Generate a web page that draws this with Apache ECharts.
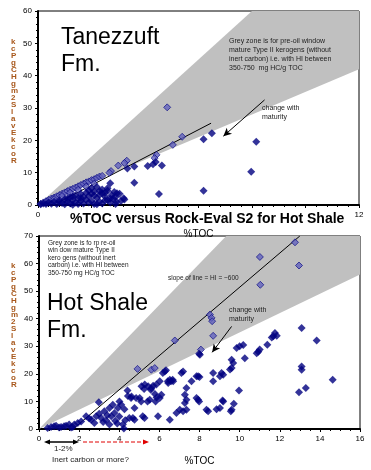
<!DOCTYPE html>
<html><head><meta charset="utf-8">
<script src="https://cdn.jsdelivr.net/npm/echarts@6/dist/echarts.min.js"></script>
<style>html,body{margin:0;padding:0;background:#fff}#c{width:371px;height:470px}</style>
</head><body><div id="c"></div>
<script>
// ---------- DATA ----------
const topXTicks = [0, 12, 2];       // min, max, interval (%TOC)
const topYTicks = [0, 60, 10];      // S2 mg HC/g rock
const hotXTicks = [0, 16, 2];
const hotYTicks = [0, 70, 10];
const hiBounds = [350, 750];        // grey zone HI range (mg HC/g TOC)

const topSolid = [
 [0.1,0.2],[0.2,0.5],[0.3,0.3],[0.4,0.8],[0.5,0.4],[0.6,1.0],[0.7,0.3],[0.8,1.4],[0.9,0.6],[1.0,1.8],
 [1.0,0.2],[1.1,1.0],[1.2,2.4],[1.2,0.5],[1.3,1.5],[1.4,3.0],[1.4,0.8],[1.5,2.0],[1.5,0.3],[1.6,3.4],
 [1.6,1.2],[1.7,2.5],[1.7,0.5],[1.8,3.8],[1.8,1.6],[1.9,4.5],[1.9,0.8],[1.9,2.8],[2.0,5.2],[2.0,3.5],
 [2.0,1.2],[2.1,4.2],[2.1,0.3],[2.2,5.6],[2.2,2.2],[2.3,3.2],[2.3,1.0],[2.4,4.8],[2.4,0.5],[2.5,2.6],
 [2.5,3.8],[2.6,1.5],[2.6,5.2],[2.7,6.7],[2.7,0.8],[2.75,3.0],[2.8,2.0],[2.85,4.0],[2.9,2.5],[2.95,3.6],
 [3.05,3.5],[2.93,1.0],[3.2,2.1],[3.23,1.7],[3.1,1.2],[2.2,0.2],[1.3,0.1],[2.9,0.3],
 [0.8,0.9],[1.1,2.0],[1.3,2.6],[1.6,2.2],[2.1,2.9],[2.4,3.6],[2.6,4.4],[2.3,4.3],[2.5,1.4],[2.7,1.9],
 [3.34,11.3],[3.6,11.9],[3.6,6.9],[4.1,12.1],[4.3,12.6],[4.4,13.3],[4.52,3.4],[4.63,12.2],
 [6.19,20.3],[6.5,22.2],[6.19,4.4],[7.97,10.3],[8.16,19.6]
];
const topHatched = [
 [4.83,30.2],[5.39,21.1],[5.04,18.6],[4.43,15.5],[4.36,14.5],[3.32,13.7],[3.23,13.0],[3.0,12.2],[2.73,10.5],[2.67,10.0],
 [0.1,0.4],[0.2,0.8],[0.3,1.2],[0.4,1.6],[0.5,2.0],[0.6,2.3],[0.7,2.7],[0.8,3.1],[0.9,3.5],[1.0,3.9],
 [1.1,4.3],[1.2,4.7],[1.3,5.0],[1.4,5.4],[1.5,5.8],[1.6,6.2],[1.7,6.6],[1.8,7.0],[1.9,7.3],[2.0,7.7],
 [2.1,8.0],[2.2,8.4],[2.3,8.8],[2.4,9.0],
 [0.3,0.9],[0.6,1.8],[0.9,2.8],[1.2,3.8],[1.5,4.7],[1.8,5.7],[2.1,6.6]
];
const hotSolid = [
 [0.43,0.4],[0.6,0.7],[0.75,1.0],[0.85,1.2],[1.0,0.5],[1.1,0.7],[1.25,1.0],[1.35,1.2],[1.5,1.6],[1.6,0.5],
 [1.68,0.7],[1.76,1.6],[1.93,2.2],[2.1,2.7],
 [2.35,4.6],[2.5,3.8],[2.6,3.4],[2.76,2.2],[2.85,4.6],[2.98,9.7],[3.0,5.5],[3.1,4.0],[3.2,2.5],[3.26,6.4],
 [3.35,3.1],[3.4,5.0],[3.51,7.6],[3.51,1.6],[3.6,4.6],[3.68,8.8],[3.76,5.8],[3.8,3.0],[3.93,7.6],[3.9,2.0],
 [4.01,10.0],[4.1,8.8],[4.0,4.5],[4.18,1.6],[4.23,0.2],[4.26,7.2],[4.3,3.2],[4.41,14.0],[4.43,12.0],[4.5,4.0],
 [4.59,11.2],[4.61,11.8],[4.68,4.0],[4.76,7.6],[4.76,3.4],[4.84,11.2],[5.02,11.2],[5.09,10.0],[5.11,15.5],[5.17,4.6],
 [5.26,4.0],[5.24,14.5],[5.27,16.1],[5.44,15.5],[5.41,10.0],[5.52,10.6],[5.57,14.2],[5.6,14.8],[5.69,15.7],[5.85,16.1],
 [5.78,12.7],[5.86,11.4],[5.81,10.0],[5.93,4.6],[6.02,11.2],[6.1,12.4],[6.02,17.3],[6.17,20.3],[6.27,20.9],[6.33,21.3],
 [6.42,17.3],[6.44,16.7],[6.52,17.9],[6.52,3.4],[6.58,17.3],[6.66,17.9],[6.69,17.3],[6.85,5.8],[7.02,7.0],[7.18,6.4],
 [7.1,20.3],[7.18,20.9],[7.27,12.4],[7.35,14.9],[7.35,10.6],[7.27,9.4],[7.35,7.0],[7.6,17.3],[7.85,11.2],[7.93,10.6],
 [7.98,10.0],[7.93,19.1],[7.85,19.1],[8.0,18.9],[8.02,26.9],[7.98,27.3],[8.35,7.0],[8.43,6.4],[8.68,20.3],[8.68,17.3],
 [8.85,7.2],[9.02,7.6],[9.1,20.3],[9.18,19.7],[9.02,19.1],[9.15,10.3],[9.18,10.0],[9.52,21.6],[9.6,22.1],[9.68,23.9],
 [9.6,25.1],[9.6,7.0],[9.56,6.4],[9.71,9.2],[9.85,29.4],[10.0,30.0],[10.18,30.5],[9.97,14.0],[10.26,25.7],[10.85,27.5],
 [10.93,28.0],[11.0,28.8],[11.38,30.6],[11.6,33.2],[11.68,33.6],[11.76,34.8],[11.85,33.8],[12.96,13.3],[13.09,21.5],[13.09,22.7],
 [13.3,14.9],[13.09,36.6],[13.84,32.1],[14.64,17.9]
];
const hotHatched = [
 [4.91,21.8],[5.6,21.5],[5.77,22.1],[6.77,32.1],[8.07,28.8],[8.52,41.5],[8.6,40.3],[8.63,39.1],[8.68,33.8],
 [11.01,62.4],[11.03,52.3],[12.76,67.7],[12.96,59.3]
];
const topTrend = [[0.74,0.7],[6.47,25.3]];
const hotTrend = [[1.7,0],[13.0,70]];
const topArrow = [[8.47,32.5],[6.93,21.3]];
const hotArrow = [[9.6,37.2],[8.63,27.8]];

const FONT = 'Liberation Sans, Arial, sans-serif';
const NAVY = '#000080';

function zonePoly(xMax, yMax) {
  const lo = hiBounds[0] / 100, hi = hiBounds[1] / 100;
  return [[0,0],[yMax/hi, yMax],[xMax, yMax],[xMax, Math.min(yMax, lo*xMax)]];
}

function xAxis(idx, t, minorSplit, nameGap) {
  return {
    gridIndex: idx, type: 'value', min: t[0], max: t[1], interval: t[2],
    name: '%TOC', nameLocation: 'middle', nameGap: nameGap,
    nameTextStyle: {fontFamily: FONT, fontSize: 10, color: '#000'},
    axisLine: {lineStyle: {color: '#000', width: 2}},
    axisTick: {show: true, length: 3, lineStyle: {color: '#000'}},
    minorTick: {show: true, splitNumber: minorSplit, length: 2, lineStyle: {color: '#000'}},
    axisLabel: {fontFamily: FONT, fontSize: 8, color: '#000', margin: 6},
    splitLine: {show: false}
  };
}
function yAxis(idx, t) {
  return {
    gridIndex: idx, type: 'value', min: t[0], max: t[1], interval: t[2],
    axisLine: {show: true, lineStyle: {color: '#000', width: 2}},
    axisTick: {show: true, length: 3, lineStyle: {color: '#000'}},
    minorTick: {show: true, splitNumber: 5, length: 2, lineStyle: {color: '#000'}},
    axisLabel: {fontFamily: FONT, fontSize: 8, color: '#000', margin: 6},
    splitLine: {show: false}
  };
}
function zoneSeries(idx, poly) {
  return {
    type: 'custom', xAxisIndex: idx, yAxisIndex: idx, silent: true, z: 1,
    data: [[0,0]],
    renderItem: function (params, api) {
      return {type: 'polygon', shape: {points: poly.map(p => api.coord(p))},
              style: {fill: '#c0c0c0', stroke: null}};
    }
  };
}
const hatchStyle = {color: '#6262bd', borderColor: NAVY, borderWidth: 0.8};
function trendSeries(idx, pts, arrow) {
  return {
    type: 'line', xAxisIndex: idx, yAxisIndex: idx, data: pts, symbol: 'none', z: 3,
    lineStyle: {color: '#000', width: 1}, silent: true,
    markLine: {silent: true, symbol: ['none','arrow'], symbolSize: [6,8],
      lineStyle: {color: '#000', width: 1, type: 'solid'}, label: {show: false},
      data: [[{coord: arrow[0]}, {coord: arrow[1]}]]}
  };
}
function txt(left, top, text, font, fill, lh, extra) {
  return {type: 'text', left: left, top: top, z: 100,
    style: Object.assign({text: text, font: font, fill: fill, lineHeight: lh}, extra || {})};
}

const chart = echarts.init(document.getElementById('c'), null, {renderer: 'canvas'});
chart.setOption({
  animation: false,
  backgroundColor: '#fff',
  title: {
    text: '%TOC versus Rock-Eval S2 for Hot Shale', left: 70, top: 212,
    backgroundColor: '#fff', padding: 0,
    textStyle: {fontFamily: FONT, fontSize: 14, fontWeight: 'bold', color: '#000', lineHeight: 14}
  },
  grid: [
    {left: 38, top: 11, width: 321, height: 194, show: true, borderColor: '#000', borderWidth: 1},
    {left: 39, top: 236, width: 321, height: 193, show: true, borderColor: '#000', borderWidth: 1}
  ],
  xAxis: [xAxis(0, topXTicks, 5, 24), xAxis(1, hotXTicks, 4, 27)],
  yAxis: [yAxis(0, topYTicks), yAxis(1, hotYTicks)],
  series: [
    zoneSeries(0, zonePoly(topXTicks[1], topYTicks[1])),
    zoneSeries(1, zonePoly(hotXTicks[1], hotYTicks[1])),
    trendSeries(0, topTrend, topArrow),
    trendSeries(1, hotTrend, hotArrow),
    {type: 'scatter', xAxisIndex: 0, yAxisIndex: 0, data: topHatched, symbol: 'diamond', symbolSize: 7, z: 4, itemStyle: hatchStyle},
    {type: 'scatter', xAxisIndex: 0, yAxisIndex: 0, data: topSolid, symbol: 'diamond', symbolSize: 8, z: 5, itemStyle: {color: NAVY}},
    {type: 'scatter', xAxisIndex: 1, yAxisIndex: 1, data: hotHatched, symbol: 'diamond', symbolSize: 7, z: 4, itemStyle: hatchStyle},
    {type: 'scatter', xAxisIndex: 1, yAxisIndex: 1, data: hotSolid, symbol: 'diamond', symbolSize: 8, z: 5, itemStyle: {color: NAVY}}
  ],
  graphic: [
    txt(61, 24, 'Tanezzuft\nFm.', '23px ' + FONT, '#000', 27),
    txt(47, 290, 'Hot Shale\nFm.', '23px ' + FONT, '#000', 27),
    txt(229, 37, 'Grey zone is for pre-oil window\nmature Type II kerogens (without\ninert carbon) i.e. with HI between\n350-750  mg HC/g TOC', '7px ' + FONT, '#222', 9),
    txt(48, 239, 'Grey zone is fo rp re-oil\nwin dow mature Type II\nkero gens (without inert\ncarbon) i.e. with HI between\n350-750 mg HC/g TOC', '6.5px ' + FONT, '#222', 7.5),
    txt(262, 104, 'change with\nmaturity', '7px ' + FONT, '#222', 9),
    txt(229, 306, 'change with\nmaturity', '7px ' + FONT, '#222', 9),
    txt(168, 274, 'slope of line = HI = ~600', '6.5px ' + FONT, '#222', 8),
    txt(11, 38, 'kcPgCHgm2SlavEkcoR'.split('').join('\n'), 'bold 8px ' + FONT, '#a8581c', 7, {align: 'center'}),
    txt(11, 262, 'kcPgCHgm2SlavEkcoR'.split('').join('\n'), 'bold 8px ' + FONT, '#a8581c', 7, {align: 'center'}),
    txt(54, 444, '1-2%', '8px ' + FONT, '#222', 9),
    txt(52, 455, 'Inert carbon or more?', '8px ' + FONT, '#222', 9),
    {type: 'line', z: 100, shape: {x1: 47, y1: 442, x2: 76, y2: 442}, style: {stroke: '#000', lineWidth: 1.5}},
    {type: 'polygon', z: 100, shape: {points: [[44,442],[50,439.5],[50,444.5]]}, style: {fill: '#000'}},
    {type: 'polygon', z: 100, shape: {points: [[79,442],[73,439.5],[73,444.5]]}, style: {fill: '#000'}},
    {type: 'line', z: 100, shape: {x1: 83, y1: 442, x2: 145, y2: 442}, style: {stroke: '#e00000', lineWidth: 1, lineDash: [4,2]}},
    {type: 'polygon', z: 100, shape: {points: [[149,442],[143,439.5],[143,444.5]]}, style: {fill: '#e00000'}}
  ]
});
</script></body></html>
